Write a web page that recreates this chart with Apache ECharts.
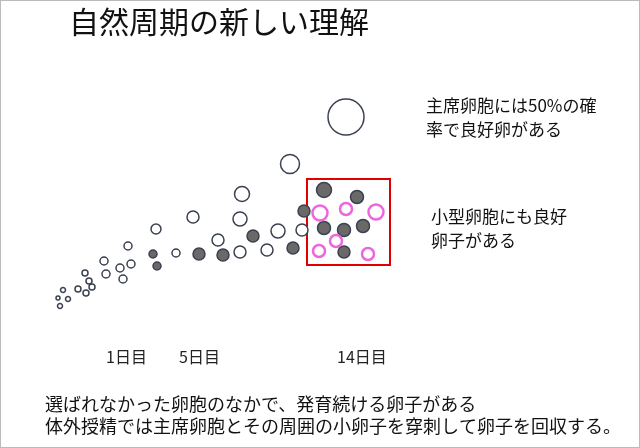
<!DOCTYPE html>
<html lang="ja">
<head>
<meta charset="UTF-8">
<title>自然周期</title>
<style>
  html, body { margin: 0; padding: 0; background: #fff; }
  #chart { width: 638px; height: 446px; border: 1px solid #bbb; }
</style>
<script src="https://cdn.jsdelivr.net/npm/echarts@6/dist/echarts.min.js"></script>
</head>
<body>
<div id="chart"></div>
<script>
// [x, y, diameter] in picture pixels
const openFollicles = [
  [57, 297, 4], [62, 289, 5], [59, 305, 5], [67, 298, 5], [77, 288, 6], [85, 292, 6],
  [91, 286, 6], [88, 280, 6], [84, 272, 6], [103, 260, 8], [105, 273, 8], [119, 267, 8],
  [122, 278, 8], [130, 263, 8], [127, 245, 8], [155, 228, 10], [175, 252, 8],
  [192, 216, 12], [217, 239, 12], [239, 251, 12], [241, 193, 15], [239, 218, 14],
  [266, 249, 12], [277, 230, 14], [289, 163, 19], [301, 229, 12], [345, 116, 36]
];
const grayFollicles = [
  [152, 253, 8], [156, 265, 8], [198, 253, 12], [222, 254, 12], [252, 235, 12],
  [292, 247, 12], [303, 210, 12], [323, 189, 15], [356, 196, 13], [323, 227, 13],
  [343, 229, 13], [362, 225, 13], [343, 251, 12]
];
const pinkFollicles = [
  [319, 212, 15], [345, 208, 12], [375, 211, 15], [335, 240, 12], [318, 250, 12], [367, 253, 12]
];
const boxArea = [[306, 178], [389, 264]];
const dayLabels = [['1日目', 105, 348], ['5日目', 178, 348], ['14日目', 336, 348]];
const titleText = '自然周期の新しい理解';
const note1 = '主席卵胞には50%の確\n率で良好卵がある';
const note2 = '小型卵胞にも良好\n卵子がある';
const footer = '選ばれなかった卵胞のなかで、発育続ける卵子がある\n体外授精では主席卵胞とその周囲の小卵子を穿刺して卵子を回収する。';

const font = '"Noto Sans CJK JP", sans-serif';
const chart = echarts.init(document.getElementById('chart'));

function bubble(data, fill, stroke, width) {
  return {
    type: 'scatter', data: data, symbol: 'circle',
    symbolSize: d => d[2],
    itemStyle: { color: fill, borderColor: stroke, borderWidth: width, opacity: 1 },
    silent: true, z: 3
  };
}

const texts = dayLabels.map(d => ({
  type: 'text', left: d[1], top: d[2],
  style: { text: d[0], font: '16px ' + font, fill: '#222' }
}));

chart.setOption({
  animation: false,
  grid: { left: 0, right: 0, top: 0, bottom: 0 },
  xAxis: { type: 'value', min: 0, max: 638, show: false },
  yAxis: { type: 'value', min: 0, max: 446, inverse: true, show: false },
  series: [
    {
      type: 'scatter', data: [], silent: true,
      markArea: {
        silent: true,
        itemStyle: { color: 'transparent', borderColor: '#e00000', borderWidth: 2 },
        data: [[{ coord: boxArea[0] }, { coord: boxArea[1] }]]
      }
    },
    bubble(openFollicles, '#fff', '#3a4150', 1.5),
    bubble(grayFollicles, '#6b6868', '#3a4150', 1.5),
    bubble(pinkFollicles, '#fff', '#ee66dd', 2.5)
  ],
  graphic: [
    { type: 'text', left: 68, top: 6, style: { text: titleText, font: '30px ' + font, fill: '#111' } },
    { type: 'text', left: 425, top: 93, style: { text: note1, font: '17px ' + font, fill: '#111', lineHeight: 24 } },
    { type: 'text', left: 430, top: 204, style: { text: note2, font: '17px ' + font, fill: '#111', lineHeight: 24 } },
    { type: 'text', left: 44, top: 392, style: { text: footer, font: '18px ' + font, fill: '#111', lineHeight: 22 } }
  ].concat(texts)
});
</script>
</body>
</html>
